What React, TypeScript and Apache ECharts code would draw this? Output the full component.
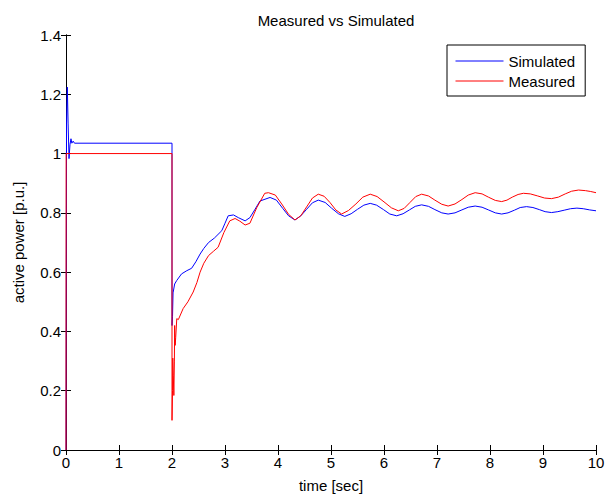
import React, { useEffect, useRef } from "react";
import * as echarts from "echarts";

const title = "Measured vs Simulated";
const xName = "time [sec]";
const yName = "active power [p.u.]";
const seriesNames = ["Simulated", "Measured"];

const simulated: [number, number][] = [
  [0, 0], [0.01, 1.1], [0.025, 1.224], [0.04, 1.1], [0.057, 0.983], [0.075, 1.03], [0.094, 1.05],
  [0.11, 1.035], [0.135, 1.042], [0.16, 1.035], [1.0, 1.035], [2.0, 1.035],
  [2.0, 0.42], [2.01, 0.45], [2.02, 0.53], [2.05, 0.56], [2.09, 0.572], [2.18, 0.594], [2.28, 0.605],
  [2.37, 0.613], [2.45, 0.635], [2.53, 0.661], [2.6, 0.68], [2.69, 0.7], [2.8, 0.715], [2.94, 0.74],
  [3.0, 0.765], [3.06, 0.79], [3.16, 0.793], [3.25, 0.784], [3.38, 0.773], [3.47, 0.784], [3.56, 0.81],
  [3.66, 0.84], [3.85, 0.852], [3.97, 0.843], [4.09, 0.815], [4.2, 0.79], [4.32, 0.776], [4.43, 0.79],
  [4.54, 0.812], [4.65, 0.834], [4.76, 0.843], [4.89, 0.835], [5.01, 0.816], [5.14, 0.797], [5.26, 0.788],
  [5.38, 0.797], [5.5, 0.812], [5.62, 0.826], [5.74, 0.832], [5.86, 0.826], [5.99, 0.811], [6.11, 0.796],
  [6.24, 0.79], [6.36, 0.797], [6.48, 0.81], [6.59, 0.822], [6.71, 0.827], [6.84, 0.822], [6.96, 0.811],
  [7.09, 0.8], [7.21, 0.796], [7.34, 0.8], [7.47, 0.81], [7.59, 0.819], [7.72, 0.823], [7.85, 0.819],
  [7.97, 0.81], [8.1, 0.8], [8.22, 0.796], [8.34, 0.8], [8.46, 0.809], [8.57, 0.818], [8.69, 0.821],
  [8.81, 0.818], [8.93, 0.811], [9.04, 0.804], [9.16, 0.801], [9.28, 0.804], [9.4, 0.809], [9.52, 0.814],
  [9.64, 0.816], [9.76, 0.814], [9.88, 0.81], [10, 0.807],
];

const measured: [number, number][] = [
  [0, 0], [0.003, 1.0], [1.0, 1.0], [2.0, 1.0],
  [2.0, 0.1], [2.01, 0.2], [2.015, 0.31], [2.025, 0.25], [2.035, 0.184], [2.045, 0.3], [2.05, 0.42],
  [2.06, 0.353], [2.07, 0.38], [2.09, 0.443], [2.12, 0.44], [2.21, 0.477], [2.3, 0.5], [2.4, 0.533],
  [2.47, 0.565], [2.53, 0.6], [2.6, 0.63], [2.69, 0.656], [2.78, 0.67], [2.87, 0.684], [2.98, 0.734],
  [3.09, 0.773], [3.19, 0.781], [3.28, 0.772], [3.38, 0.759], [3.47, 0.765], [3.6, 0.818], [3.75, 0.866],
  [3.82, 0.868], [3.95, 0.86], [4.07, 0.83], [4.2, 0.795], [4.32, 0.776], [4.43, 0.79], [4.54, 0.82],
  [4.65, 0.85], [4.76, 0.863], [4.87, 0.856], [4.98, 0.835], [5.09, 0.81], [5.2, 0.796], [5.33, 0.808],
  [5.47, 0.83], [5.6, 0.853], [5.74, 0.863], [5.87, 0.855], [6.0, 0.837], [6.14, 0.817], [6.27, 0.807],
  [6.38, 0.815], [6.49, 0.835], [6.6, 0.855], [6.71, 0.863], [6.84, 0.857], [6.96, 0.843], [7.09, 0.829],
  [7.21, 0.823], [7.34, 0.83], [7.47, 0.845], [7.59, 0.86], [7.72, 0.868], [7.85, 0.864], [7.97, 0.853],
  [8.1, 0.842], [8.22, 0.838], [8.32, 0.843], [8.42, 0.853], [8.53, 0.862], [8.63, 0.866], [8.76, 0.864],
  [8.9, 0.857], [9.03, 0.85], [9.16, 0.848], [9.29, 0.853], [9.42, 0.864], [9.54, 0.873], [9.67, 0.877],
  [9.8, 0.875], [9.9, 0.872], [10, 0.868],
];

const FONT = "'Liberation Sans', Arial, sans-serif";

export default function App() {
  const ref = useRef<HTMLDivElement>(null);
  useEffect(() => {
    if (!ref.current) return;
    const chart = echarts.init(ref.current, null, { renderer: "svg" });
    const axisLine = { show: true, lineStyle: { color: "#000", width: 1 } };
    const tick = { show: true, inside: true, length: 5, lineStyle: { color: "#000" } };
    chart.setOption({
      animation: false,
      backgroundColor: "#fff",
      textStyle: { fontFamily: FONT },
      title: {
        text: title,
        left: 331,
        textAlign: "center",
        top: 8,
        textStyle: { fontFamily: FONT, fontSize: 15, fontWeight: "normal", color: "#000" },
      },
      legend: {
        orient: "vertical",
        left: 447,
        top: 45,
        padding: [6, 10, 5, 8],
        itemGap: 0,
        itemWidth: 48,
        itemHeight: 14,
        borderColor: "#000",
        borderWidth: 1,
        backgroundColor: "#fff",
        textStyle: { fontFamily: FONT, fontSize: 15, color: "#000", lineHeight: 20 },
        data: seriesNames.map((n, i) => ({
          name: n,
          itemStyle: { opacity: 0 },
          lineStyle: { color: i === 0 ? "#0000ff" : "#ff0000", width: 1 },
        })),
      },
      grid: { left: 66, right: 18, top: 35, bottom: 46, containLabel: false },
      xAxis: [
        {
          type: "value",
          min: 0,
          max: 10,
          interval: 1,
          name: xName,
          nameLocation: "middle",
          nameGap: 28,
          nameTextStyle: { fontFamily: FONT, fontSize: 15, color: "#000" },
          axisLine,
          axisTick: tick,
          axisLabel: { color: "#000", fontSize: 15, fontFamily: FONT, margin: 5 },
          splitLine: { show: false },
        },
        {
          type: "value",
          position: "top",
          min: 0,
          max: 10,
          interval: 1,
          axisLine,
          axisTick: tick,
          axisLabel: { show: false },
          splitLine: { show: false },
        },
      ],
      yAxis: [
        {
          type: "value",
          min: 0,
          max: 1.4,
          interval: 0.2,
          name: yName,
          nameLocation: "middle",
          nameGap: 40,
          nameRotate: 90,
          nameTextStyle: { fontFamily: FONT, fontSize: 15, color: "#000" },
          axisLine,
          axisTick: tick,
          axisLabel: { color: "#000", fontSize: 15, fontFamily: FONT, margin: 5 },
          splitLine: { show: false },
        },
        {
          type: "value",
          position: "right",
          min: 0,
          max: 1.4,
          interval: 0.2,
          axisLine,
          axisTick: tick,
          axisLabel: { show: false },
          splitLine: { show: false },
        },
      ],
      series: [
        {
          name: seriesNames[0],
          type: "line",
          data: simulated,
          showSymbol: false,
          symbol: "none",
          color: "#0000ff",
          lineStyle: { color: "#0000ff", width: 1 },
        },
        {
          name: seriesNames[1],
          type: "line",
          data: measured,
          showSymbol: false,
          symbol: "none",
          color: "#ff0000",
          lineStyle: { color: "#ff0000", width: 1 },
        },
      ],
    });
    return () => chart.dispose();
  }, []);
  return <div ref={ref} style={{ width: 614, height: 498, position: "absolute", left: 0, top: 0 }} />;
}
